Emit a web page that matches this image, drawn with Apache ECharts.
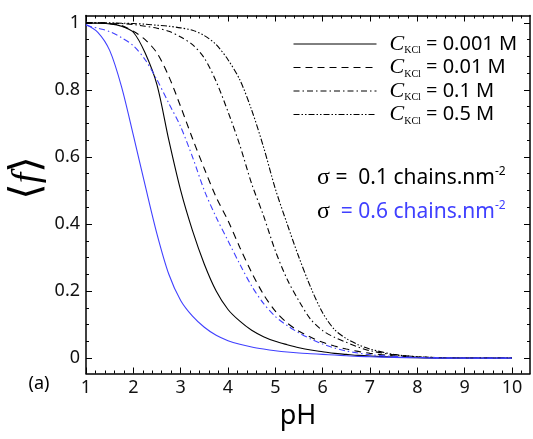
<!DOCTYPE html>
<html>
<head>
<meta charset="utf-8">
<script src="https://cdn.jsdelivr.net/npm/echarts@6/dist/echarts.min.js"></script>
<style>html,body{margin:0;padding:0;background:#fff;}#c{width:533px;height:439px;}</style>
</head>
<body>
<div id="c"></div>
<script>
// pH grid
const pH = [1,1.25,1.5,1.75,2,2.25,2.5,2.75,3,3.25,3.5,3.75,4,4.25,4.5,4.75,5,5.25,5.5,5.75,6,6.25,6.5,6.75,7,7.5,8,8.5,9,9.5,10];
// sigma = 0.1 chains/nm^2
const kcl0001 = [1.0,0.999,0.997,0.99,0.972,0.91,0.815,0.65,0.5,0.38,0.28,0.2,0.145,0.11,0.083,0.064,0.05,0.04,0.031,0.024,0.019,0.014,0.011,0.008,0.006,0.003,0.001,0,0,0,0];
const kcl001  = [1.0,1.0,0.998,0.992,0.975,0.95,0.91,0.84,0.75,0.655,0.565,0.48,0.41,0.33,0.255,0.19,0.14,0.105,0.08,0.062,0.047,0.036,0.027,0.02,0.014,0.007,0.003,0.001,0,0,0];
const kcl01   = [1.0,1.0,0.999,0.998,0.995,0.99,0.984,0.975,0.958,0.935,0.895,0.825,0.735,0.635,0.52,0.425,0.32,0.235,0.17,0.115,0.082,0.062,0.047,0.033,0.022,0.01,0.004,0.001,0,0,0];
const kcl05   = [1.0,1.0,1.0,0.999,0.998,0.996,0.993,0.99,0.985,0.978,0.962,0.935,0.89,0.83,0.74,0.63,0.505,0.4,0.3,0.21,0.135,0.085,0.058,0.04,0.027,0.011,0.004,0.001,0,0,0];
// sigma = 0.6 chains/nm^2
const blue0001 = [0.995,0.972,0.918,0.81,0.665,0.515,0.37,0.25,0.172,0.125,0.092,0.068,0.052,0.041,0.033,0.027,0.022,0.018,0.015,0.013,0.011,0.009,0.007,0.005,0.004,0.002,0.001,0,0,0,0];
const blue01   = [0.993,0.984,0.974,0.956,0.932,0.89,0.83,0.76,0.69,0.6,0.5,0.42,0.35,0.28,0.215,0.163,0.124,0.097,0.075,0.057,0.042,0.03,0.021,0.015,0.01,0.005,0.002,0.001,0,0,0];
// axis ticks
const xMajor = [1,2,3,4,5,6,7,8,9,10];
const xMinor = [];
for (let i = 1; i < 10; i++) for (let j = 1; j < 5; j++) xMinor.push(+(i + j*0.2).toFixed(1));
xMinor.push(10.2);
const yMajor = [0,0.2,0.4,0.6,0.8,1];
const yMinor = [0.05,0.1,0.15,0.25,0.3,0.35,0.45,0.5,0.55,0.65,0.7,0.75,0.85,0.9,0.95];
const legendNames = ['0.001','0.01','0.1','0.5'];

const BLUE = '#4040ff';
const chart = echarts.init(document.getElementById('c'), null, {renderer:'canvas'});
const XMIN = 1, XMAX = 10.38, YMIN = -0.046, YMAX = 1.022;
const FONT = 'Noto Sans';
function xAx(pos, ticks, len, labels, line) {
  return {
    type:'value', position:pos, min:XMIN, max:XMAX,
    axisLine:{show:line, onZero:false, lineStyle:{color:'#000', width:1.5}},
    axisTick:{show:true, inside:true, length:len, customValues:ticks, lineStyle:{color:'#000', width:1}},
    axisLabel:{show:labels, customValues:ticks, color:'#111', fontSize:18, fontFamily:FONT, margin:5},
    splitLine:{show:false}
  };
}
function yAx(pos, ticks, len, labels, line) {
  return {
    type:'value', position:pos, min:YMIN, max:YMAX,
    axisLine:{show:line, onZero:false, lineStyle:{color:'#000', width:1.5}},
    axisTick:{show:true, inside:true, length:len, customValues:ticks, lineStyle:{color:'#000', width:1}},
    axisLabel:{show:labels, customValues:ticks, color:'#111', fontSize:18, fontFamily:FONT, margin:6,
      formatter: v => (v === 0 || v === 1) ? String(v) : v.toFixed(1)},
    splitLine:{show:false}
  };
}
function mk(name, vals, color, type, width) {
  return {
    name, type:'line', xAxisIndex:0, yAxisIndex:0, symbol:'none', smooth:0.3,
    lineStyle:{color, width, type}, itemStyle:{color},
    data: pH.map((x,i)=>[x, vals[i]]), z:3
  };
}
const option = {
  animation:false,
  backgroundColor:'#fff',
  grid:{left:86, right:3, top:15.5, bottom:65.5, containLabel:false},
  xAxis:[xAx('bottom', xMajor, 6, true, true), xAx('bottom', xMinor, 3, false, false),
         xAx('top', xMajor, 6, false, true), xAx('top', xMinor, 3, false, false)],
  yAxis:[yAx('left', yMajor, 6, true, true), yAx('left', yMinor, 3, false, false),
         yAx('right', yMajor, 6, false, true), yAx('right', yMinor, 3, false, false)],
  legend:{
    data: legendNames, orient:'vertical', left:288, top:28, itemWidth:83, itemHeight:12, itemGap:1,
    selectedMode:false,
    itemStyle:{opacity:0, color:'transparent', borderWidth:0},
    lineStyle:{width:1},
    formatter: n => '{c|C}{s|KCl}{t| = ' + n + ' M}',
    textStyle:{ rich:{
      c:{fontFamily:'Liberation Serif', fontStyle:'italic', fontSize:22, color:'#000', lineHeight:23, padding:[0,0,0,8]},
      s:{fontFamily:'Liberation Serif', fontSize:10, color:'#000', lineHeight:10, verticalAlign:'bottom'},
      t:{fontFamily:FONT, fontSize:20, color:'#000', lineHeight:23}
    }}
  },
  series:[
    mk('0.001', kcl0001, '#000', 'solid', 1.1),
    mk('0.01', kcl001, '#000', [7,5], 1.1),
    mk('0.1', kcl01, '#000', [6,3,1.5,3], 1.1),
    mk('0.5', kcl05, '#000', [6,2,1.5,2,1.5,2], 1.1),
    mk('blue 0.001', blue0001, BLUE, 'solid', 1.1),
    mk('blue 0.1', blue01, BLUE, [6,3,1.5,3], 1.1)
  ],
  graphic:[
    {type:'text', x:28, y:178, rotation:Math.PI/2, style:{
      text:'{b|⟨}{f|f}{b|⟩}', align:'center', verticalAlign:'middle',
      rich:{ b:{fontFamily:'DejaVu Sans', fontSize:42, fill:'#000', lineHeight:46},
             f:{fontFamily:'Liberation Serif', fontStyle:'italic', fontSize:38, fill:'#000', lineHeight:46} }
    }},
    {type:'text', x:298, y:416, style:{text:'pH', align:'center', verticalAlign:'middle', fontFamily:FONT, fontSize:27, fill:'#000'}},
    {type:'text', x:39, y:384, style:{text:'(a)', align:'center', verticalAlign:'middle', fontFamily:FONT, fontSize:18, fill:'#000'}},
    {type:'text', x:317, y:178, style:{
      text:'{s|σ}{t| =  0.1 chains.nm}{p|-2}', align:'left', verticalAlign:'middle',
      rich:{ s:{fontFamily:'Liberation Serif', fontSize:24, fill:'#000', lineHeight:24},
             t:{fontFamily:FONT, fontSize:21, fill:'#000', lineHeight:24},
             p:{fontFamily:FONT, fontSize:12, fill:'#000', lineHeight:12, verticalAlign:'top'} }
    }},
    {type:'text', x:317, y:212, style:{
      text:'{s|σ}{t|  = 0.6 chains.nm}{p|-2}', align:'left', verticalAlign:'middle',
      rich:{ s:{fontFamily:'Liberation Serif', fontSize:24, fill:'#000', lineHeight:24},
             t:{fontFamily:FONT, fontSize:21, fill:BLUE, lineHeight:24},
             p:{fontFamily:FONT, fontSize:12, fill:BLUE, lineHeight:12, verticalAlign:'top'} }
    }}
  ]
};
chart.setOption(option);
</script>
</body>
</html>
